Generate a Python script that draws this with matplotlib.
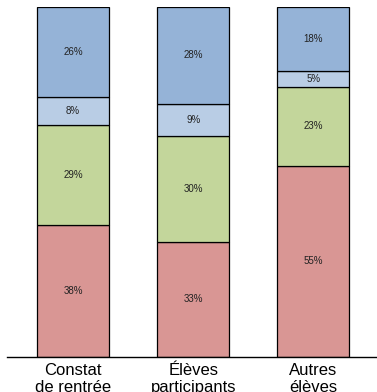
import matplotlib
matplotlib.use("Agg")
import matplotlib.pyplot as plt
import numpy as np

plt.rcParams["font.family"] = ["Liberation Sans", "DejaVu Sans"]

categories = ["Constat\nde rentrée", "Élèves\nparticipants", "Autres\nélèves"]
# stacked shares, bottom to top (%)
red_vals = [37.7, 32.9, 54.6]
green_vals = [28.6, 30.3, 22.6]
light_vals = [8.0, 9.1, 4.6]
blue_vals = [25.7, 27.7, 18.3]

series = [red_vals, green_vals, light_vals, blue_vals]
colors = ["#d99694", "#c3d69b", "#b9cde5", "#95b3d7"]

fig = plt.figure(figsize=(3.77, 3.92), dpi=100)
ax = fig.add_axes([7 / 377, 35 / 392, 370 / 377, 350 / 392])

x = np.arange(len(categories))
bottom = np.zeros(len(categories))
for vals, col in zip(series, colors):
    vals = np.array(vals)
    ax.bar(x, vals, 0.6, bottom=bottom, color=col, edgecolor="black", linewidth=0.9)
    for xi, b, v in zip(x, bottom, vals):
        ax.text(xi, b + v / 2, f"{v:.0f}%", ha="center", va="center", fontsize=7, color="#222222")
    bottom += vals

ax.set_xlim(-0.55, 2.53)
ax.set_ylim(0, 100)
ax.set_xticks(x)
ax.set_xticklabels(categories, fontsize=12, linespacing=1.2)
ax.tick_params(axis="x", length=0, pad=4)
ax.set_yticks([])
for s in ["left", "right", "top"]:
    ax.spines[s].set_visible(False)
ax.spines["bottom"].set_linewidth(1.0)
ax.spines["bottom"].set_color("black")

fig.savefig("out.png", dpi=100)
